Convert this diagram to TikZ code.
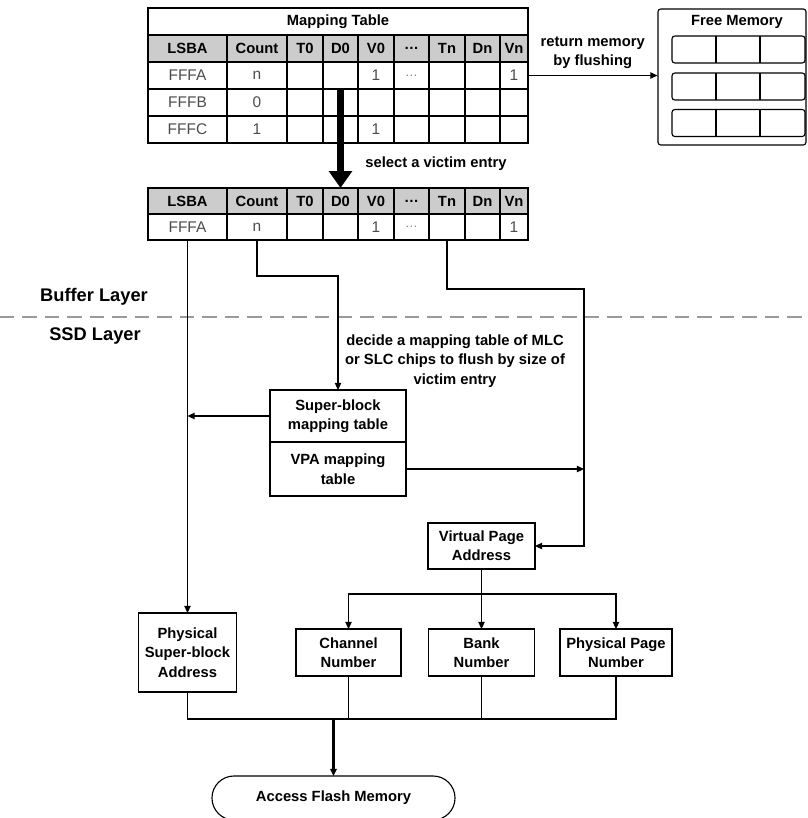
\documentclass[tikz,border=0pt]{standalone}
\usepackage{fontspec}
\setmainfont{Liberation Sans}
\usetikzlibrary{arrows.meta,positioning}

\definecolor{headgray}{gray}{0.8}
\definecolor{inkgray}{gray}{0.3}
\definecolor{dashgray}{gray}{0.6}

\tikzset{
  lbl/.style={font=\bfseries\fontsize{10.5}{13.8}\selectfont, align=center},
  cell/.style={draw, inner sep=0pt, outer sep=0pt, minimum height=0.675cm,
    font=\fontsize{11}{12}\selectfont, text=inkgray},
  headcell/.style={cell, fill=headgray, text=black, font=\bfseries\fontsize{10.5}{12}\selectfont},
  box/.style={draw, lbl, inner sep=0pt, outer sep=0pt},
  slot/.style={draw, rounded corners=2pt, inner sep=0pt, outer sep=0pt,
    minimum width=3.325cm, minimum height=0.675cm},
  link/.style={-{Triangle[length=5pt,width=4.5pt]}},
  bigarrow/.style={line width=5pt, -{Triangle[length=12pt,width=16pt]}},
  layer/.style={font=\bfseries\fontsize{13}{15}\selectfont},
}

% column borders of both tables
\def\colx{{148,227,287,323,358,394,429,465,500,528}}
\newcommand{\tabrow}[4]{%
  \foreach \txt [count=\k] in {#4}{%
    \pgfmathsetmacro\xl{\colx[\k-1]}%
    \pgfmathsetmacro\xr{\colx[\k]}%
    \node[#3, minimum width={(\xr-\xl)*0.025cm}] (#1-\k) at ({(\xl+\xr)/2},#2) {\txt};
  }}

\begin{document}
\begin{tikzpicture}[x=0.025cm, y=-0.025cm, line width=0.8pt]
\useasboundingbox (0,0) rectangle (808,818);

% mapping table
\node[headcell, fill=white, minimum width=9.5cm] (mt) at (338,21.5) {Mapping Table};
\tabrow{ha}{48.5}{headcell}{LSBA,Count,T0,D0,V0,\ldots,Tn,Dn,Vn}
\tabrow{ra}{75.5}{cell}{FFFA,n,{},{},1,{\textcolor{gray}{\small\ldots}},{},{},1}
\tabrow{rb}{102.5}{cell}{FFFB,0,{},{},{},{},{},{},{}}
\tabrow{rc}{129.5}{cell}{FFFC,1,{},{},1,{},{},{},{}}
\draw[line width=1.3pt] (ra-1.north west) rectangle (ra-9.south east);

% free memory
\node[draw, rounded corners=2pt, inner sep=0pt, minimum width=3.7cm, minimum height=3.4cm] (fm) at (732,77) {};
\node[lbl] (fmt) at (737,22) {Free Memory};
\foreach \i/\y in {1/49.5,2/86.5,3/123}{
  \node[slot] (slot\i) at (738.5,\y) {};
  \draw (716,\y-13.5) -- (716,\y+13.5);
  \draw (760,\y-13.5) -- (760,\y+13.5);
}
\draw[link] (ra-9.east) -- node[lbl, above=1pt] (ret) {return memory\\by flushing} (ra-9.east -| fm.west);

% victim entry
\tabrow{hb}{201}{headcell, minimum height=0.65cm}{LSBA,Count,T0,D0,V0,\ldots,Tn,Dn,Vn}
\tabrow{vb}{227}{cell, minimum height=0.65cm}{FFFA,n,{},{},1,{\textcolor{gray}{\small\ldots}},{},{},1}
\draw[bigarrow] (ra-4.south) -- (hb-4.north);
\node[lbl] (sel) at (436,164) {select a victim entry};

% layers
\draw[dashgray, dash pattern=on 10pt off 6pt] (0,317) -- (808,317);
\node[layer] (buf) at (94,297) {Buffer Layer};
\node[layer] (ssd) at (95,336) {SSD Layer};
\node[lbl] (dec) at (455,361) {decide a mapping table of MLC\\or SLC chips to flush by size of\\victim entry};

% SSD side
\node[box, minimum width=3.4cm, minimum height=1.3cm] (sbt) at (338,416) {Super-block\\mapping table};
\node[box, minimum width=3.4cm, minimum height=1.35cm, below=0pt of sbt] (vpat) {VPA mapping\\table};
\node[box, minimum width=2.675cm, minimum height=1.15cm] (vpa) at (481.5,546) {Virtual Page\\Address};
\node[box, minimum width=2.45cm, minimum height=1.975cm] (psa) at (187.5,652.5) {Physical\\Super-block\\Address};
\node[box, minimum width=2.625cm, minimum height=1.175cm] (chn) at (348.5,652.5) {Channel\\Number};
\node[box, minimum width=2.65cm, minimum height=1.175cm] (bnk) at (481.5,652.5) {Bank\\Number};
\node[box, minimum width=2.8cm, minimum height=1.175cm] (ppn) at (616,652.5) {Physical Page\\Number};
\node[box, rounded corners=0.55cm, minimum width=6.075cm, minimum height=1.1cm] (afm) at (333.5,798) {Access Flash Memory};

\coordinate (vbus) at (584,289);
\coordinate (fan) at (481.5,594);
\coordinate (sink) at (333.5,719);

\draw[link] (vb-1.south) -- (psa.north);
\draw[link] (vb-2.south) -- ++(0,36) -| (sbt.north);
\draw[link] (vb-7.south) |- (vbus) |- (vpa.east);
\draw[link] (sbt.west) -- (sbt.west -| psa.north);
\draw[link] (vpat.east) -- (vpat.east -| vbus);

\draw (vpa.south) -- (fan);
\draw[link] (fan) -| (chn.north);
\draw[link] (fan) -- (bnk.north);
\draw[link] (fan) -| (ppn.north);

\draw (psa.south) |- (sink);
\draw (ppn.south) |- (sink);
\draw (chn.south) -- (chn.south |- sink);
\draw (bnk.south) -- (bnk.south |- sink);
\draw[link, line width=1.6pt] (bnk.south |- sink) -- (sink) -- (afm.north);
\end{tikzpicture}
\end{document}
